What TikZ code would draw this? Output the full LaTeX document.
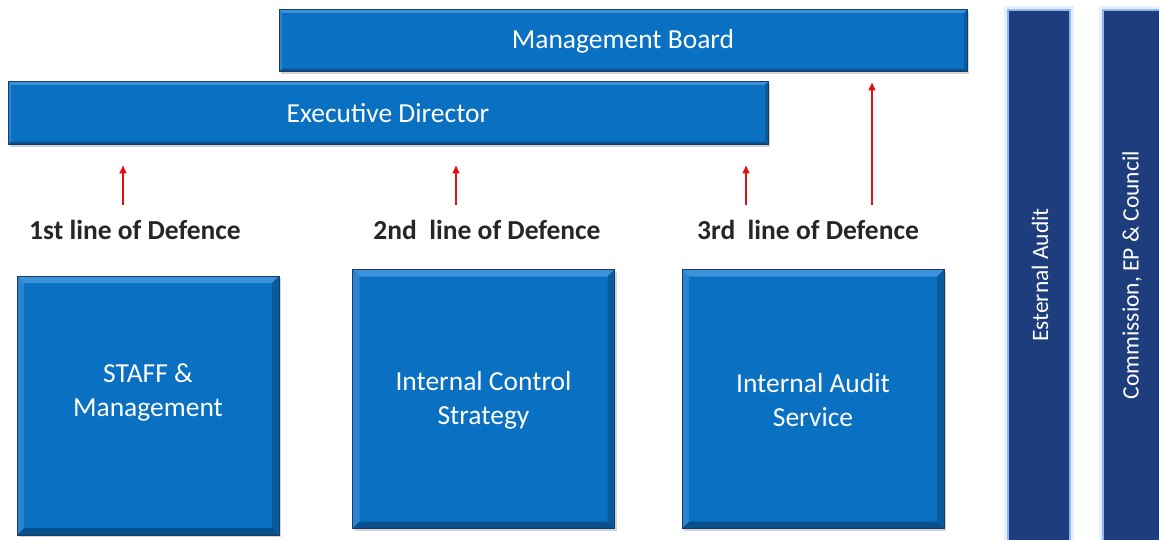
\documentclass[tikz,border=0pt]{standalone}
\usepackage{fontspec}
\setmainfont{Carlito}
\usetikzlibrary{calc,arrows.meta,shadows}
\definecolor{boxblue}{HTML}{0A70C2}
\definecolor{boxlight}{HTML}{3C92DA}
\definecolor{boxlight2}{HTML}{2A84CF}
\definecolor{boxdark}{HTML}{0A5A9E}
\definecolor{boxdark2}{HTML}{08508C}
\definecolor{edgeblue}{HTML}{1B3A66}
\definecolor{barblue}{HTML}{1E3D7D}
\definecolor{glowblue}{HTML}{8FB8EE}
\definecolor{lbl}{HTML}{262626}
\definecolor{arrred}{HTML}{E01010}
\tikzset{
  bevelsq/.style={path picture={
    \path (path picture bounding box.south west) coordinate (bsw)
          (path picture bounding box.north east) coordinate (bne)
          (path picture bounding box.north west) coordinate (bnw)
          (path picture bounding box.south east) coordinate (bse);
    \fill[boxlight] (bnw) -- (bne) -- ($(bne)+(-#1,-#1)$) -- ($(bnw)+(#1,-#1)$) -- cycle;
    \fill[boxlight2] (bnw) -- ($(bnw)+(#1,-#1)$) -- ($(bsw)+(#1,#1)$) -- (bsw) -- cycle;
    \fill[boxdark] (bne) -- ($(bne)+(-#1,-#1)$) -- ($(bse)+(-#1,#1)$) -- (bse) -- cycle;
    \fill[boxdark2] (bsw) -- ($(bsw)+(#1,#1)$) -- ($(bse)+(-#1,#1)$) -- (bse) -- cycle;
  }},
  panel/.style={draw=edgeblue, line width=1pt, fill=boxblue, text=white,
    font=\fontsize{27.5}{34}\selectfont, align=center, inner sep=0pt,
    drop shadow={shadow xshift=2pt, shadow yshift=-2pt, opacity=.35}},
  barbox/.style={panel, bevelsq=3pt},
  sqbox/.style={panel, bevelsq=7pt, minimum width=262pt, minimum height=259pt},
  boxtext/.style={text=white, font=\fontsize{27.5}{34}\selectfont, align=center, inner sep=0pt},
  linelabel/.style={text=lbl, font=\bfseries\fontsize{27.5}{30}\selectfont, inner sep=0pt},
  sidebar/.style={fill=barblue, draw=glowblue, line width=2pt, inner sep=0pt,
    minimum width=62pt, minimum height=540pt},
  glowbar/.style={draw=glowblue!50, line width=8pt, opacity=.45, inner sep=0pt,
    minimum width=62pt, minimum height=540pt},
  sidetext/.style={text=white, font=\fontsize{23.5}{26}\selectfont, rotate=90, inner sep=0pt},
  arr/.style={draw=arrred, line width=1.8pt, -{Triangle[length=8pt,width=7pt]}}
}
\begin{document}
\begin{tikzpicture}[x=1pt, y=-1pt]
\useasboundingbox (0,0) rectangle (1159,540);
% top boxes
\node[barbox, minimum width=688pt, minimum height=62pt] (mb) at (623,41) {Management Board};
\node[barbox, minimum width=760pt, minimum height=63pt] (ed) at (388,113.5) {Executive Director};
% labels
\node[linelabel] (l1) at (135,230) {1st line of Defence};
\node[linelabel] (l2) at (487,230) {2nd~~line of Defence};
\node[linelabel] (l3) at (808,230) {3rd~~line of Defence};
% squares
\node[sqbox] (s1) at (148,405.5) {};
\node[sqbox] (s2) at (483.5,399) {};
\node[sqbox] (s3) at (813,399) {};
\node[boxtext] (t1) at (148,392) {STAFF \&\\Management};
\node[boxtext] (t2) at (483.5,400) {Internal Control\\Strategy};
\node[boxtext] (t3) at (813,400) {Internal Audit\\Service};
% side bars
\node[glowbar] (g1) at (1039,280) {};
\node[glowbar] (g2) at (1134,280) {};
\node[sidebar] (b1) at (1039,280) {};
\node[sidebar] (b2) at (1134,280) {};
\node[sidetext] (e1) at (1040,275) {Esternal Audit};
\node[sidetext] (e2) at (1132,275) {Commission, EP \& Council};
% arrows
\coordinate (a1) at (123,205);
\coordinate (a2) at (456,205);
\coordinate (a3) at (746,205);
\coordinate (a4) at (872,205);
\draw[arr, shorten >=20pt] (a1) -- (a1 |- ed.south);
\draw[arr, shorten >=20pt] (a2) -- (a2 |- ed.south);
\draw[arr, shorten >=20pt] (a3) -- (a3 |- ed.south);
\draw[arr, shorten >=10pt] (a4) -- (a4 |- mb.south);
\end{tikzpicture}
\end{document}
